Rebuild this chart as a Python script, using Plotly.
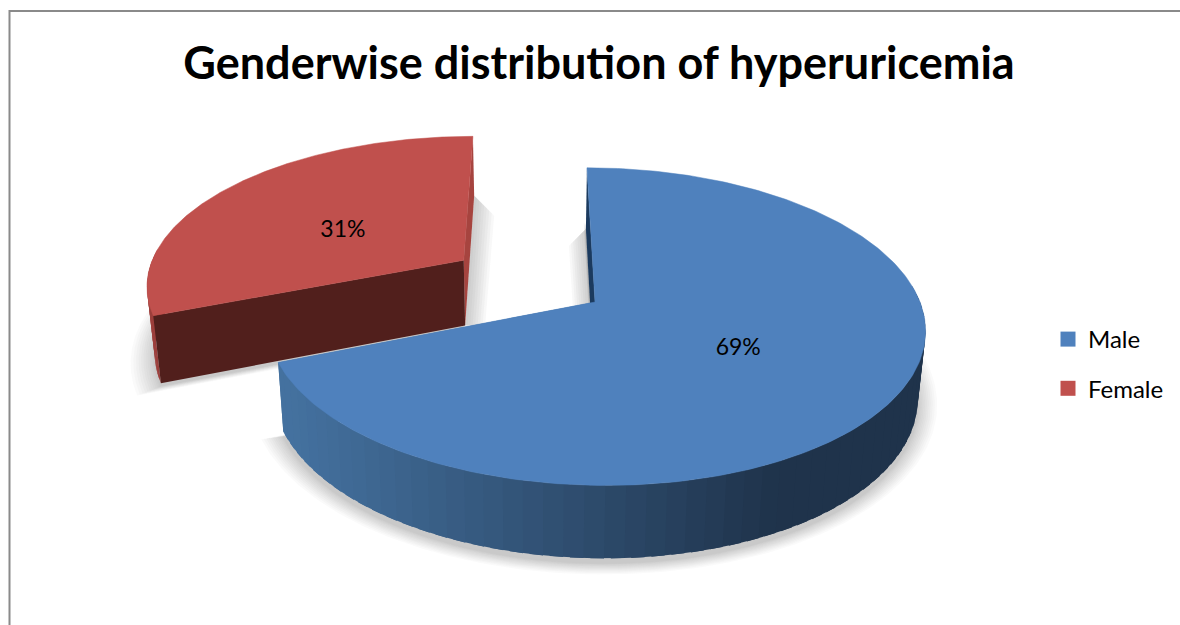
import math
import plotly.graph_objects as go

# ---- data -------------------------------------------------------------
categories = ["Male", "Female"]
values = [69, 31]
top_colors = ["#4F81BD", "#C0504D"]
title_text = "Genderwise distribution of hyperuricemia"

# ---- 3-D pie projection settings (style only) --------------------------
VX, AX0, AY = 535.0, 60.0, 302.0   # vanishing x, apex offset, apex y
R, KR, P = 325.0, 155.0, 0.155     # radius, squash, perspective
EXPLODE = [0.0, 0.5]
BASE_T = 0.98
LABEL_NUDGE = [2, 9]


def project(s, c):
    d = 1 + P * c
    return VX + (AX0 + R * s) / d, AY - KR * c / d


def lower(s, c):
    x, y = project(s, c)
    return VX + (x - VX) * BASE_T, y + 67 - 6 * c


def lerp_hex(a, b, t):
    t = max(0.0, min(1.0, t))
    ca = [int(a[i:i + 2], 16) for i in (1, 3, 5)]
    cb = [int(b[i:i + 2], 16) for i in (1, 3, 5)]
    return "#" + "".join(f"{round(u + (v - u) * t):02x}" for u, v in zip(ca, cb))


total = sum(values)
spans = []
start = 0.0
for v in values:
    end = start + v / total * 2 * math.pi
    spans.append((start, end))
    start = end


def offset(i):
    a0, a1 = spans[i]
    m = (a0 + a1) / 2
    return EXPLODE[i] * math.sin(m), EXPLODE[i] * math.cos(m)


def rim(i, n=240):
    a0, a1 = spans[i]
    ox, oy = offset(i)
    return [(ox + math.sin(a0 + (a1 - a0) * k / n), oy + math.cos(a0 + (a1 - a0) * k / n))
            for k in range(n + 1)]


fig = go.Figure()


def poly(pts, color, width=0):
    fig.add_trace(go.Scatter(
        x=[p[0] for p in pts] + [pts[0][0]], y=[p[1] for p in pts] + [pts[0][1]],
        mode="lines", fill="toself", fillcolor=color,
        line=dict(color=color, width=width), showlegend=False, hoverinfo="skip"))


SHADE = "rgba(110,110,110,0.035)"


def shadow(i, cx, cy, dy, fmax):
    ox, oy = offset(i)
    pts = [lower(s, c) for s, c in rim(i)] + [lower(ox, oy)]
    layers = 12
    for j in range(layers):
        f = 1.0 + fmax * ((layers - j) / layers) ** 1.4
        poly([(cx + (x - cx) * f, cy + (y - cy) * f + dy) for x, y in pts], SHADE)


def notch_shadow(i, edge, direction, reach):
    ox, oy = offset(i)
    a = lower(*edge)
    b = lower(ox, oy)
    for j in range(1, 9):
        d = direction * reach * j / 8
        poly([a, b, (b[0] + d, b[1]), (a[0] + d, a[1] + abs(d))], "rgba(110,110,110,0.05)")


# soft shadows under the slices
shadow(1, 500, 250, 3, 0.07)
notch_shadow(1, rim(1)[-1], 1, 20)
shadow(0, 620, 390, 5, 0.065)
notch_shadow(0, rim(0)[0], -1, 17)


def draw_slice(i, dark_left, dark_right, xa, xb, front):
    ox, oy = offset(i)
    ring = rim(i)
    first, last = ring[0], ring[-1]
    # far cut face, then the curved wall, then the near cut face, then the top
    poly([project(*last), project(ox, oy), lower(ox, oy), lower(*last)], front[1])
    step = 3
    for k in range(0, len(ring) - 1, step):
        p0, p1 = ring[k], ring[min(k + step + 2, len(ring) - 1)]
        if p0[1] - oy > 0.05 and p1[1] - oy > 0.05:
            continue
        q = [project(*p0), project(*p1), lower(*p1), lower(*p0)]
        mx = sum(pt[0] for pt in q) / 4
        poly(q, lerp_hex(dark_left, dark_right, (mx - xa) / (xb - xa)))
    poly([project(*first), project(ox, oy), lower(ox, oy), lower(*first)], front[0])
    poly([project(s, c) for s, c in ring] + [project(ox, oy)], top_colors[i], width=0.5)


draw_slice(1, "#9c3f3c", "#9c3f3c", 0, 1, ("#511F1C", "#A6443F"))
draw_slice(0, "#44719F", "#1F334B", 290, 770, ("#1B3A5E", "#44719F"))

# percentage labels
for i, (cat, v) in enumerate(zip(categories, values)):
    a0, a1 = spans[i]
    m = (a0 + a1) / 2
    ox, oy = offset(i)
    x, y = project(ox + 0.5 * math.sin(m), oy + 0.5 * math.cos(m))
    fig.add_trace(go.Scatter(
        x=[x], y=[y + LABEL_NUDGE[i]], mode="text", text=[f"{v}%"],
        textfont=dict(family="Lato", size=23, color="#000000"),
        showlegend=False, hoverinfo="skip"))

# legend entries
for i, cat in enumerate(categories):
    fig.add_trace(go.Scatter(
        x=[None], y=[None], mode="markers", name=cat, legendgroup=cat,
        marker=dict(symbol="square", size=15, color=top_colors[i])))

fig.update_layout(
    width=1180, height=625, autosize=False,
    margin=dict(l=0, r=0, t=0, b=0),
    paper_bgcolor="#ffffff", plot_bgcolor="#ffffff",
    xaxis=dict(range=[0, 1180], visible=False, fixedrange=True),
    yaxis=dict(range=[625, 0], visible=False, fixedrange=True),
    title=dict(text=f"<b>{title_text}</b>", x=599 / 1180, xanchor="center",
               y=1 - 63 / 625, yanchor="middle",
               font=dict(family="Lato", size=45, color="#000000")),
    legend=dict(x=1048 / 1180, y=1 - 364 / 625, yanchor="middle", xanchor="left",
                tracegroupgap=15, font=dict(family="Lato", size=24, color="#000000"),
                bgcolor="rgba(0,0,0,0)"),
    shapes=[dict(type="rect", xref="x", yref="y", x0=9.5, y0=11, x1=1200, y1=640,
                 line=dict(color="#8A8A8A", width=2), fillcolor="rgba(0,0,0,0)")],
)

fig.write_html("out.html", config={"displayModeBar": False},
               post_script="document.body.style.margin='0';")
